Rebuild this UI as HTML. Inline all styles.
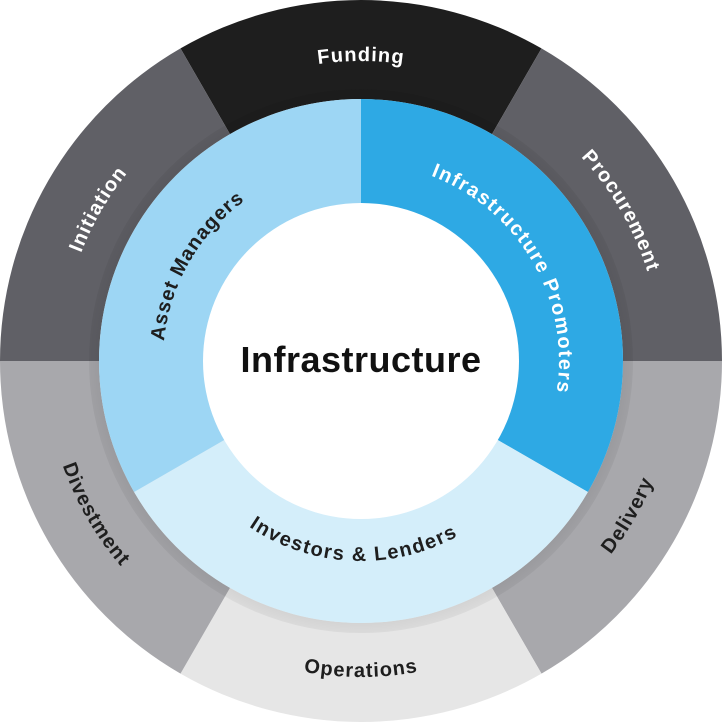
<!DOCTYPE html>
<html><head><meta charset="utf-8"><style>
html,body{margin:0;padding:0;background:#fff;}
svg{display:block;}
text{font-family:"Liberation Sans",sans-serif;font-weight:bold;}
</style></head><body>
<svg width="723" height="723" viewBox="0 0 723 723" xmlns="http://www.w3.org/2000/svg">
<defs>
<radialGradient id="sh" cx="361" cy="361" r="290" gradientUnits="userSpaceOnUse">
<stop offset="0.88" stop-color="#000" stop-opacity="0.1"/><stop offset="1" stop-color="#000" stop-opacity="0"/>
</radialGradient>
<path id="pFund" d="M211,101.2 A300 300 0 0 1 511,101.2"/>
<path id="pProc" d="M511,101.2 A300 300 0 0 1 661,361"/>
<path id="pInit" d="M61,361 A300 300 0 0 1 211,101.2"/>
<path id="pOper" d="M203,634.7 A316 316 0 0 0 519,634.7"/>
<path id="pDeli" d="M519,634.7 A316 316 0 0 0 677,361"/>
<path id="pDive" d="M45,361 A316 316 0 0 0 203,634.7"/>
<path id="pAsset" d="M189.5,460 A198 198 0 0 1 361,163"/>
<path id="pInfra" d="M361,163 A198 198 0 0 1 532.5,460"/>
<path id="pInv" d="M187.8,461 A200 200 0 0 0 534.2,461"/>
</defs>
<path d="M180.5,48.4 A361 361 0 0 1 541.5,48.4 L492,134.1 A262 262 0 0 0 230,134.1 Z" fill="#1e1e1e"/>
<path d="M541.5,48.4 A361 361 0 0 1 722,361 L623,361 A262 262 0 0 0 492,134.1 Z" fill="#606066"/>
<path d="M722,361 A361 361 0 0 1 541.5,673.6 L492,587.9 A262 262 0 0 0 623,361 Z" fill="#a8a8ac"/>
<path d="M541.5,673.6 A361 361 0 0 1 180.5,673.6 L230,587.9 A262 262 0 0 0 492,587.9 Z" fill="#e6e6e6"/>
<path d="M180.5,673.6 A361 361 0 0 1 0,361 L99,361 A262 262 0 0 0 230,587.9 Z" fill="#a8a8ac"/>
<path d="M0,361 A361 361 0 0 1 180.5,48.4 L230,134.1 A262 262 0 0 0 99,361 Z" fill="#606066"/>
<circle cx="361" cy="361" r="272" fill="url(#sh)"/>
<path d="M361,361 L361,99 A262 262 0 0 1 587.9,492 Z" fill="#2ea9e4"/>
<path d="M361,361 L587.9,492 A262 262 0 0 1 134.1,492 Z" fill="#d4eefa"/>
<path d="M361,361 L134.1,492 A262 262 0 0 1 361,99 Z" fill="#9dd6f4"/>
<circle cx="361" cy="361" r="158" fill="#fff"/>
<text x="361" y="372" font-size="36" text-anchor="middle" fill="#111" letter-spacing="0.5">Infrastructure</text>
<g font-size="20" letter-spacing="1">
<text fill="#fff"><textPath href="#pFund" startOffset="50%" text-anchor="middle">Funding</textPath></text>
<text fill="#fff"><textPath href="#pProc" startOffset="50%" text-anchor="middle">Procurement</textPath></text>
<text fill="#fff"><textPath href="#pInit" startOffset="50%" text-anchor="middle">Initiation</textPath></text>
<text fill="#1e1e1e"><textPath href="#pOper" startOffset="50%" text-anchor="middle">Operations</textPath></text>
<text fill="#1e1e1e"><textPath href="#pDeli" startOffset="50%" text-anchor="middle">Delivery</textPath></text>
<text fill="#1e1e1e"><textPath href="#pDive" startOffset="50%" text-anchor="middle">Divestment</textPath></text>
<text fill="#1e1e1e"><textPath href="#pAsset" startOffset="50%" text-anchor="middle">Asset Managers</textPath></text>
<text fill="#fff" letter-spacing="1.5"><textPath href="#pInfra" startOffset="50%" text-anchor="middle">Infrastructure Promoters</textPath></text>
<text fill="#1e1e1e" letter-spacing="1.5"><textPath href="#pInv" startOffset="48%" text-anchor="middle">Investors &amp; Lenders</textPath></text>
</g>
</svg>
</body></html>
